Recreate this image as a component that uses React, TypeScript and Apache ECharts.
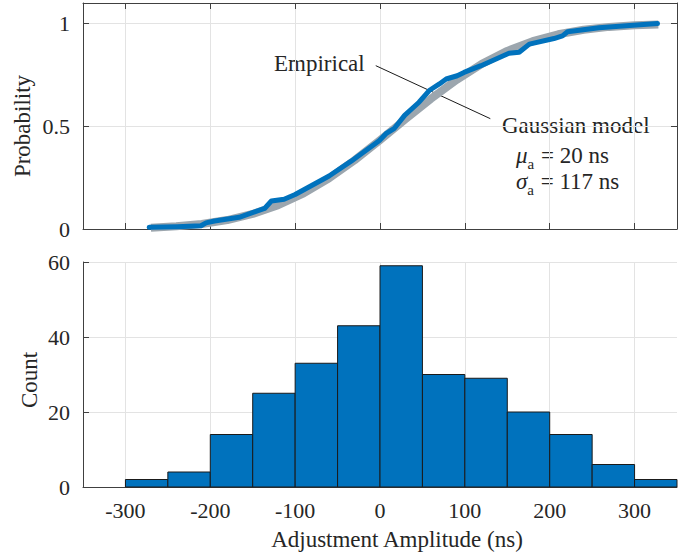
import React, { useEffect, useRef } from "react";
import * as echarts from "echarts";

// Histogram bins (ns) and counts
const binStarts = [-300, -250, -200, -150, -100, -50, 0, 50, 100, 150, 200, 250, 300];
const binWidth = 50;
const counts = [2, 4, 14, 25, 33, 43, 59, 30, 29, 20, 14, 6, 2];

// Tick values
const xTicks = [-300, -200, -100, 0, 100, 200, 300];
const xMin = -350;
const xMax = 350;

// Empirical CDF
const empX = [-272, -239, -211, -205, -195, -166, -136, -128, -113, -100, -60, -34, -1, 7, 17, 29, 46, 58, 70, 78, 91, 99, 119, 152, 164, 176, 205, 215, 221, 258, 282, 327];
const empP = [0.008, 0.011, 0.016, 0.03, 0.039, 0.057, 0.1, 0.136, 0.145, 0.168, 0.258, 0.33, 0.43, 0.464, 0.49, 0.553, 0.617, 0.674, 0.706, 0.73, 0.746, 0.762, 0.795, 0.855, 0.86, 0.9, 0.927, 0.94, 0.96, 0.98, 0.987, 1.0];

// Gaussian model CDF (mu = 20 ns, sigma = 117 ns)
const gaussX = [-270, -240, -210, -180, -150, -120, -90, -60, -30, 0, 30, 60, 90, 120, 150, 180, 210, 240, 270, 300, 328];
const gaussP = [0.0066, 0.0131, 0.0247, 0.0437, 0.0731, 0.1157, 0.1736, 0.2471, 0.3346, 0.4322, 0.5341, 0.6338, 0.7251, 0.8037, 0.8668, 0.9143, 0.9478, 0.97, 0.9837, 0.9916, 0.9958];

// Annotation leader line (data coords)
const leaderX = [-5, 130];
const leaderP = [0.795, 0.537];

const FONT = "Liberation Serif";
const TXT = "#262626";
const AX = "#404040";
const GRID = "#e3e3e3";

export default function App() {
  const ref = useRef<HTMLDivElement>(null);
  useEffect(() => {
    if (!ref.current) return;
    const chart = echarts.init(ref.current, null, { renderer: "svg" });
    const tickStyle = { show: true, inside: true, length: 6, lineStyle: { color: AX, width: 1 } };
    const axisLine = { show: true, onZero: false, lineStyle: { color: AX, width: 1 } };
    const labelStyle = { color: TXT, fontFamily: FONT, fontSize: 22 };
    const txt = (text: string, x: number, y: number, align: string, rot = 0) => ({
      type: "text", x, y, rotation: rot,
      style: { text, fill: TXT, fontFamily: FONT, fontSize: 23, align, verticalAlign: "middle" },
    });
    const richStyle = {
      i: { fill: TXT, fontFamily: FONT, fontSize: 23, fontStyle: "italic", lineHeight: 26, verticalAlign: "bottom" },
      s: { fill: TXT, fontFamily: FONT, fontSize: 15, lineHeight: 26, verticalAlign: "bottom", padding: [0, 1, -4, 0] },
      n: { fill: TXT, fontFamily: FONT, fontSize: 23, lineHeight: 26, verticalAlign: "bottom" },
    };
    const option: any = {
      animation: false,
      backgroundColor: "#ffffff",
      textStyle: { fontFamily: FONT },
      grid: [
        { left: 83, right: 17, top: 3, bottom: 326 },
        { left: 83, right: 17, top: 262, bottom: 68 },
      ],
      xAxis: [
        {
          type: "value", gridIndex: 0, position: "bottom", min: xMin, max: xMax,
          axisLine, axisTick: { ...tickStyle, customValues: xTicks },
          axisLabel: { show: false, customValues: xTicks },
          splitLine: { show: true, lineStyle: { color: GRID, width: 1 } },
        },
        {
          type: "value", gridIndex: 0, position: "top", min: xMin, max: xMax,
          axisLine, axisTick: { ...tickStyle, customValues: xTicks },
          axisLabel: { show: false, customValues: xTicks },
          splitLine: { show: false },
        },
        {
          type: "value", gridIndex: 1, position: "bottom", min: xMin, max: xMax,
          axisLine, axisTick: { ...tickStyle, customValues: xTicks },
          axisLabel: { ...labelStyle, margin: 12, customValues: xTicks },
          splitLine: { show: true, lineStyle: { color: GRID, width: 1 } },
        },
      ],
      yAxis: [
        {
          type: "value", gridIndex: 0, position: "left", min: 0, max: 1.1, interval: 0.5,
          axisLine, axisTick: tickStyle,
          axisLabel: { ...labelStyle, margin: 13, showMaxLabel: false },
          splitLine: { show: true, lineStyle: { color: GRID, width: 1 } },
        },
        {
          type: "value", gridIndex: 0, position: "right", min: 0, max: 1.1, interval: 0.5,
          axisLine, axisTick: tickStyle,
          axisLabel: { show: false },
          splitLine: { show: false },
        },
        {
          type: "value", gridIndex: 1, position: "left", min: 0, max: 60, interval: 20,
          axisLine, axisTick: tickStyle,
          axisLabel: { ...labelStyle, margin: 13 },
          splitLine: { show: true, lineStyle: { color: GRID, width: 1 } },
        },
      ],
      series: [
        {
          type: "line", xAxisIndex: 0, yAxisIndex: 0, showSymbol: false, silent: true,
          data: leaderX.map((x, i) => [x, leaderP[i]]),
          lineStyle: { color: "#000000", width: 0.9 },
        },
        {
          type: "line", xAxisIndex: 0, yAxisIndex: 0, showSymbol: false, smooth: false,
          data: gaussX.map((x, i) => [x, gaussP[i]]),
          lineStyle: { color: "#9ca6ae", width: 8, cap: "butt", join: "round" },
        },
        {
          type: "line", xAxisIndex: 0, yAxisIndex: 0, showSymbol: false,
          data: empX.map((x, i) => [x, empP[i]]),
          lineStyle: { color: "#0072BD", width: 5, cap: "round", join: "round" },
        },
        {
          type: "custom", xAxisIndex: 2, yAxisIndex: 2,
          data: counts.map((c, i) => [binStarts[i], binStarts[i] + binWidth, c]),
          encode: { x: [0, 1], y: 2 },
          renderItem: (params: any, api: any) => {
            const p0 = api.coord([api.value(0), api.value(2)]);
            const p1 = api.coord([api.value(1), 0]);
            return {
              type: "rect",
              shape: { x: p0[0], y: p0[1], width: p1[0] - p0[0], height: p1[1] - p0[1] },
              style: { fill: "#0072BD", stroke: "#1a1a1a", lineWidth: 1 },
            };
          },
        },
      ],
      graphic: [
        txt("Probability", 22, 126, "center", Math.PI / 2),
        txt("Count", 29, 380, "center", Math.PI / 2),
        txt("Adjustment Amplitude (ns)", 397, 539, "center"),
        txt("Empirical", 274, 63, "left"),
        txt("Gaussian model", 502, 125, "left"),
        {
          type: "text", x: 516, y: 154,
          style: { text: "{i|μ}{s|a}{n| = 20 ns}", align: "left", verticalAlign: "middle", rich: richStyle },
        },
        {
          type: "text", x: 516, y: 180,
          style: { text: "{i|σ}{s|a}{n| = 117 ns}", align: "left", verticalAlign: "middle", rich: richStyle },
        },
      ],
    };
    chart.setOption(option);
    return () => chart.dispose();
  }, []);
  return (
    <div
      ref={ref}
      style={{ position: "fixed", left: 0, top: 0, width: 694, height: 555, background: "#fff" }}
    />
  );
}
